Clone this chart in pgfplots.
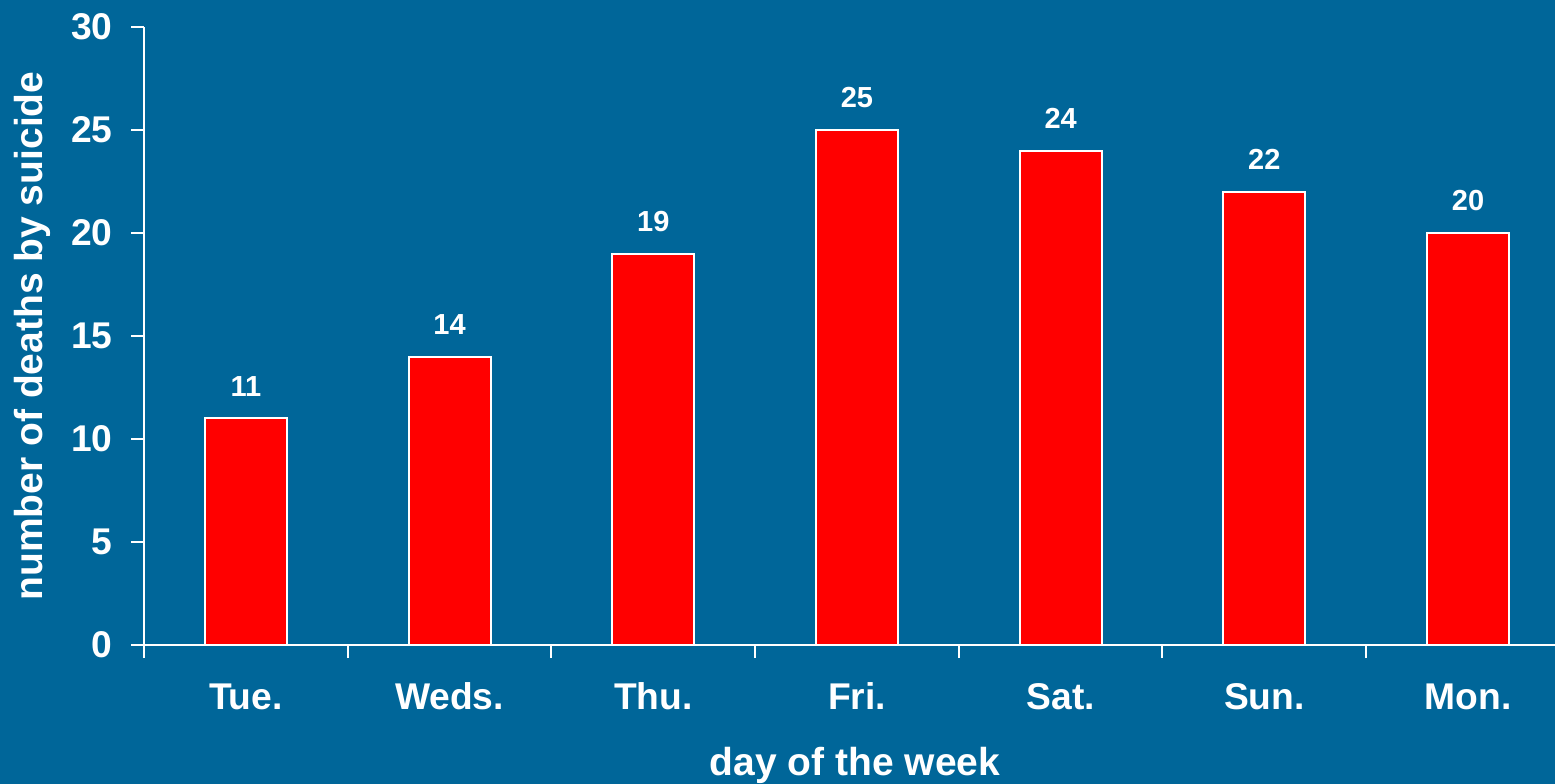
\documentclass[border=0pt]{standalone}
\usepackage{fontspec}
\setmainfont{Liberation Sans}
\usepackage{pgfplots}
\pgfplotsset{compat=1.18}
\usetikzlibrary{backgrounds}
\definecolor{bgblue}{RGB}{0,102,153}
\definecolor{barred}{RGB}{255,0,0}
\begin{document}
\begin{tikzpicture}
\begin{axis}[
  width=705.5pt, height=309pt, scale only axis,
  xmin=-0.5, xmax=6.427, ymin=0, ymax=30,
  axis x line*=bottom, axis y line*=left,
  axis line style={white, line width=1pt, -},
  xtick={0,...,6},
  xticklabels={Tue., Weds., Thu., Fri., Sat., Sun., Mon.},
  major x tick style={draw=none},
  minor xtick={-0.5,0.5,...,5.5},
  ytick={0,5,...,30},
  tick align=outside,
  major tick length=6.5pt, minor tick length=6.5pt,
  every tick/.style={white, line width=1pt},
  minor tick style={white, line width=1pt},
  major y tick style={white, line width=1pt},
  /pgf/number format/assume math mode=true,
  tick label style={font=\bfseries\fontsize{18.6}{20}\selectfont, text=white},
  xticklabel style={anchor=base, inner sep=0pt, yshift=-25.5pt},
  yticklabel style={anchor=east, inner sep=0pt, xshift=-9pt},
  ybar, bar width=41pt,
  nodes near coords,
  nodes near coords style={font=\bfseries\fontsize{14.5}{16}\selectfont, text=white, anchor=base, inner sep=0pt, yshift=11pt},
  xlabel={day of the week},
  ylabel={number of deaths by suicide},
  xlabel style={at={(axis description cs:0.504,-0.2104)}, anchor=base, inner sep=0pt, font=\bfseries\fontsize{19.5}{21}\selectfont, text=white},
  ylabel style={at={(axis description cs:-0.0716,0.5)}, anchor=base, inner sep=0pt, font=\bfseries\fontsize{19.5}{21}\selectfont, text=white},
]
\addplot[fill=barred, draw=white, line width=1pt] coordinates {(0,11) (1,14) (2,19) (3,25) (4,24) (5,22) (6,20)};
\coordinate (bl) at (rel axis cs:-0.10206,-0.2249);
\coordinate (tr) at (rel axis cs:1,1.04369);
\end{axis}
\pgfresetboundingbox
\path[use as bounding box] (bl) rectangle (tr);
\begin{scope}[on background layer]
\fill[bgblue] (bl) rectangle (tr);
\end{scope}
\end{tikzpicture}
\end{document}
